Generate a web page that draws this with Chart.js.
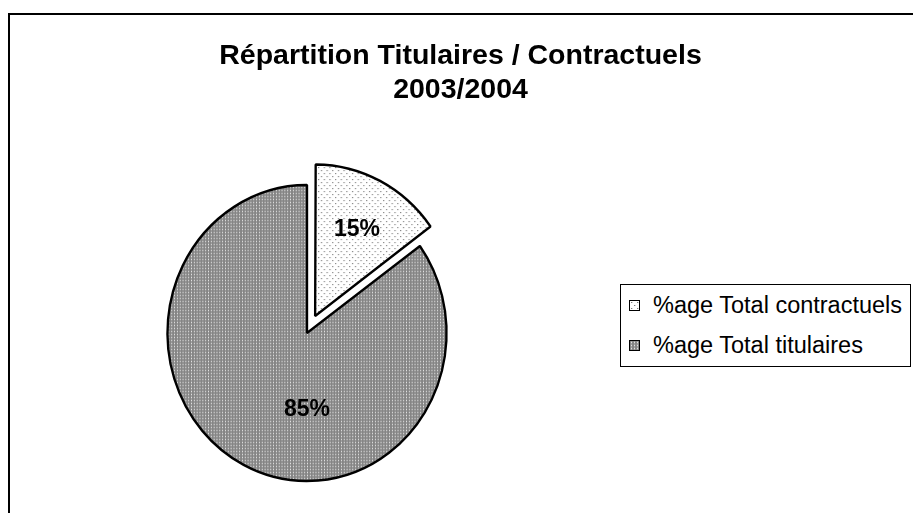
<!DOCTYPE html>
<html>
<head>
<meta charset="utf-8">
<script src="https://cdn.jsdelivr.net/npm/chart.js@4/dist/chart.umd.min.js"></script>
<style>
html, body { margin: 0; padding: 0; background: #fff; overflow: hidden; }
#wrap { position: relative; width: 913px; height: 513px; font-family: "Liberation Sans", Arial, sans-serif; }
#frame { position: absolute; left: 8px; top: 13px; right: -10px; bottom: -10px; border-top: 2px solid #000; border-left: 2px solid #000; }
#title { position: absolute; left: 8px; width: 905px; top: 37px; text-align: center; font-weight: bold; font-size: 28.5px; line-height: 34px; }
#legend { position: absolute; left: 620px; top: 284px; width: 289px; height: 81px; border: 1px solid #000; background: #fff; }
.row { position: relative; height: 40px; line-height: 40px; font-size: 23.5px; padding-left: 32px; white-space: nowrap; }
.row canvas { position: absolute; left: 8px; top: 15px; border: 1px solid #000; }
#c { position: absolute; left: 0; top: 0; }
</style>
</head>
<body>
<div id="wrap">
  <div id="frame"></div>
  <canvas id="c" width="913" height="513"></canvas>
  <div id="title">Répartition Titulaires / Contractuels<br>2003/2004</div>
  <div id="legend"></div>
</div>
<script>
// data
const categories = ['%age Total contractuels', '%age Total titulaires'];
const shares = [15, 85];

// pie is a bit squashed horizontally in the original
const SX = 0.943;

function makePattern(kind) {
  const t = document.createElement('canvas');
  const g = t.getContext('2d');
  if (kind === 'light') {
    t.width = 6; t.height = 6;
    g.fillStyle = '#fff';
    g.fillRect(0, 0, 6, 6);
    g.fillStyle = '#7a7a7a';
    g.fillRect(1, 1, 1, 1);
    g.fillRect(4, 4, 1, 1);
    g.fillStyle = '#d4d4d4';
    g.fillRect(2, 1, 1, 1);
    g.fillRect(5, 4, 1, 1);
  } else {
    t.width = 3; t.height = 3;
    g.fillStyle = '#858585';
    g.fillRect(0, 0, 3, 3);
    g.fillStyle = '#a2a2a2';
    g.fillRect(1, 0, 1, 3);
    g.fillStyle = '#e0e0e0';
    g.fillRect(1, 1, 1, 1);
  }
  return g.createPattern(t, 'repeat');
}

const fills = [makePattern('light'), makePattern('dark')];

// legend
const legend = document.getElementById('legend');
categories.forEach((name, i) => {
  const row = document.createElement('div');
  row.className = 'row';
  const box = document.createElement('canvas');
  box.width = 9; box.height = 9;
  const bctx = box.getContext('2d');
  bctx.fillStyle = fills[i];
  bctx.fillRect(0, 0, 9, 9);
  row.appendChild(box);
  row.appendChild(document.createTextNode(name));
  legend.appendChild(row);
});

const squash = {
  id: 'squash',
  beforeDatasetsDraw(chart) {
    const cx = chart.getDatasetMeta(0).data[0].x;
    const ctx = chart.ctx;
    ctx.save();
    ctx.translate(cx, 0);
    ctx.scale(SX, 1);
    ctx.translate(-cx, 0);
  },
  afterDatasetsDraw(chart) {
    chart.ctx.restore();
  }
};

// label placement: fraction of radius, optional fixed angle
const labelPlace = [{ frac: 0.66 }, { frac: 0.51, angle: Math.PI / 2 }];

const pctLabels = {
  id: 'pctLabels',
  afterDatasetsDraw(chart) {
    const ctx = chart.ctx;
    const arcs = chart.getDatasetMeta(0).data;
    ctx.save();
    ctx.font = 'bold 23px "Liberation Sans", Arial, sans-serif';
    ctx.fillStyle = '#000';
    ctx.textAlign = 'center';
    ctx.textBaseline = 'middle';
    arcs.forEach((arc, i) => {
      const p = arc.getProps(['x', 'y', 'startAngle', 'endAngle', 'outerRadius']);
      const mid = (p.startAngle + p.endAngle) / 2;
      const shift = (arc.options.offset || 0) / 4;
      const ang = labelPlace[i].angle !== undefined ? labelPlace[i].angle : mid;
      const r = p.outerRadius * labelPlace[i].frac;
      let x = p.x + Math.cos(mid) * shift + Math.cos(ang) * r;
      const y = p.y + Math.sin(mid) * shift + Math.sin(ang) * r;
      x = p.x + (x - p.x) * SX;
      ctx.fillText(shares[i] + '%', x, y + 1);
    });
    ctx.restore();
  }
};

new Chart(document.getElementById('c'), {
  type: 'pie',
  data: {
    labels: categories,
    datasets: [{
      data: shares,
      backgroundColor: fills,
      borderColor: '#000',
      borderWidth: 2.5,
      offset: [76, 0],
      hoverOffset: 0
    }]
  },
  options: {
    responsive: false,
    animation: false,
    events: [],
    radius: 148,
    layout: { padding: { left: 157, right: 456, top: 183, bottom: 30 } },
    plugins: {
      legend: { display: false },
      title: { display: false },
      tooltip: { enabled: false }
    }
  },
  plugins: [squash, pctLabels]
});
</script>
</body>
</html>
